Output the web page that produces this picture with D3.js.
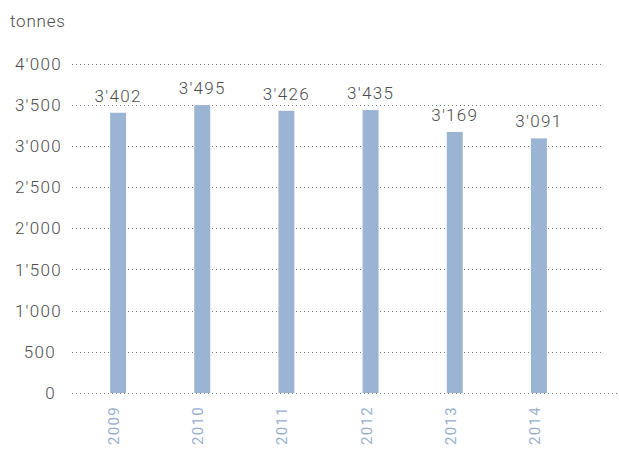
<!DOCTYPE html>
<html>
<head>
<meta charset="utf-8">
<script src="https://cdn.jsdelivr.net/npm/d3@7"></script>
<style>
  body { margin: 0; background: #fff; }
  text { font-family: Roboto, "Noto Sans", sans-serif; font-weight: 300; }
</style>
</head>
<body>
<div id="chart"></div>
<script>
// data
const years = ["2009", "2010", "2011", "2012", "2013", "2014"];
const tonnes = [3402, 3495, 3426, 3435, 3169, 3091];
const yTicks = [0, 500, 1000, 1500, 2000, 2500, 3000, 3500, 4000];

const width = 619, height = 449;

const svg = d3.select("#chart").append("svg")
    .attr("width", width)
    .attr("height", height);

const x = d3.scaleBand()
    .domain(years)
    .range([68, 589])
    .paddingInner(0.81)
    .paddingOuter(0.5);

const y = d3.scaleLinear()
    .domain([0, 4000])
    .range([393, 63.5]);

// apostrophe as thousands separator
const fmt = d3.formatLocale({ decimal: ".", thousands: "'", grouping: [3], currency: ["", ""] }).format(",");

// dotted grid
svg.append("g")
    .selectAll("line")
    .data(yTicks)
    .enter().append("line")
    .attr("x1", 72)
    .attr("x2", d => d === 0 ? 617 : 601)
    .attr("y1", d => Math.round(y(d)) + 0.5)
    .attr("y2", d => Math.round(y(d)) + 0.5)
    .attr("stroke", "#777")
    .attr("stroke-width", 1)
    .attr("stroke-dasharray", "1,3");

// y tick labels
svg.append("g")
    .selectAll("text")
    .data(yTicks)
    .enter().append("text")
    .attr("x", d => d < 1000 ? 56 : 62)
    .attr("y", d => y(d))
    .attr("dy", "0.36em")
    .attr("text-anchor", "end")
    .attr("fill", "#4d4d4d")
    .style("font-size", "17px")
    .style("letter-spacing", "1.3px")
    .text(d => fmt(d));

// unit
svg.append("text")
    .attr("x", 10)
    .attr("y", 27)
    .attr("fill", "#4d4d4d")
    .style("font-size", "17px")
    .style("letter-spacing", "0.8px")
    .text("tonnes");

// bars
svg.append("g")
    .selectAll("rect")
    .data(tonnes)
    .enter().append("rect")
    .attr("x", (d, i) => x(years[i]))
    .attr("width", x.bandwidth())
    .attr("y", d => y(d))
    .attr("height", d => y(0) - y(d))
    .attr("fill", "#9cb4d3");

// value labels
svg.append("g")
    .selectAll("text")
    .data(tonnes)
    .enter().append("text")
    .attr("x", (d, i) => x(years[i]) + x.bandwidth() / 2)
    .attr("y", d => y(d) - 11)
    .attr("text-anchor", "middle")
    .attr("fill", "#4d4d4d")
    .style("font-size", "17px")
    .style("letter-spacing", "1.3px")
    .text(d => fmt(d));

// year labels, rotated
svg.append("g")
    .selectAll("text")
    .data(years)
    .enter().append("text")
    .attr("transform", d => `translate(${x(d) + x.bandwidth() / 2 + 1},406) rotate(-90)`)
    .attr("text-anchor", "end")
    .attr("fill", "#97b0d1")
    .style("font-size", "15px")
    .style("font-weight", 400)
    .style("letter-spacing", "1.3px")
    .text(d => d);
</script>
</body>
</html>
